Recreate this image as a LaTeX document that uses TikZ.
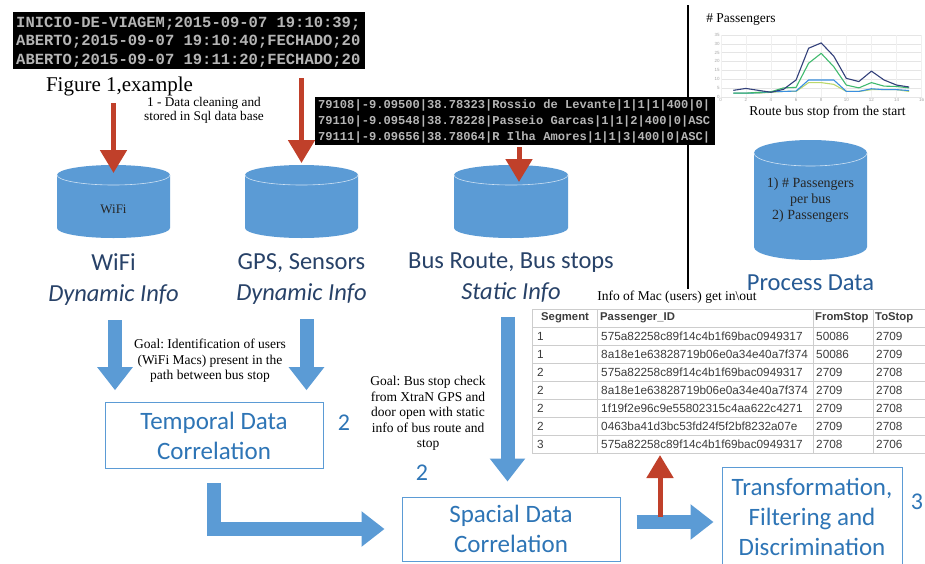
\documentclass[tikz,border=0pt]{standalone}
\usepackage{fontspec}
\setmainfont{Liberation Serif}
\newfontfamily\calfont{Carlito}
\newfontfamily\tabfont{Liberation Sans}
\newfontfamily\termfont{Liberation Mono}
\usetikzlibrary{arrows.meta,positioning}
\frenchspacing
\definecolor{dbblue}{RGB}{91,155,213}
\definecolor{boxblue}{RGB}{46,117,182}
\definecolor{lblblue}{RGB}{40,66,104}
\definecolor{procblue}{RGB}{38,90,148}
\definecolor{redarr}{RGB}{192,64,42}
\definecolor{tabgrid}{RGB}{205,205,205}
\definecolor{tabtxt}{RGB}{60,60,60}
\definecolor{navyline}{RGB}{50,64,122}
\definecolor{greenline}{RGB}{64,186,110}
\definecolor{blueline}{RGB}{58,143,224}
\definecolor{limeline}{RGB}{186,216,108}
\tikzset{
termbox/.style={fill=black, draw=none, inner sep=0pt, outer sep=0pt},
termbig/.style={text=gray!58, font=\termfont\bfseries\fontsize{15.5}{18}\selectfont, anchor=west, inner sep=0pt},
termsmall/.style={text=gray!58, font=\termfont\bfseries\fontsize{12.1}{14}\selectfont, anchor=west, inner sep=0pt},
cylnode/.style={draw=none, inner sep=0pt, outer sep=0pt},
cyltxt/.style={align=center, inner sep=0pt, text=black!85},
dblabel/.style={align=center, inner sep=0pt, text=lblblue, font=\calfont\fontsize{24.5}{31}\selectfont},
corrbox/.style={rectangle, draw=dbblue, line width=1pt, fill=white, align=center, inner sep=0pt, text=boxblue, font=\calfont\fontsize{25}{30}\selectfont},
numlbl/.style={inner sep=0pt, text=boxblue, font=\calfont\fontsize{24}{26}\selectfont},
goaltxt/.style={align=center, inner sep=0pt, font=\fontsize{13.5}{15.5}\selectfont},
tabhead/.style={anchor=west, inner sep=0pt, text=tabtxt, font=\tabfont\bfseries\fontsize{11.3}{14}\selectfont},
tabcell/.style={anchor=west, inner sep=0pt, text=tabtxt, font=\tabfont\fontsize{11.8}{14}\selectfont},
tick/.style={inner sep=1pt, text=gray!70, font=\tabfont\fontsize{4.5}{5}\selectfont},
bigarrow/.style={draw=dbblue, line width=14pt, line join=miter, -{Triangle[width=34pt,length=23pt]}},
redarrow/.style={draw=redarr, line width=5pt, -{Triangle[width=26pt,length=23pt]}}
}
% database cylinder: name, centre x, top y, bottom y, half width, ellipse height
\newcommand\dbcyl[6]{%
\fill[dbblue] (#2-#5,#3) -- (#2-#5,#4)
  arc[start angle=180, end angle=360, x radius=#5pt, y radius=#6pt]
  -- (#2+#5,#3)
  arc[start angle=0, end angle=180, x radius=#5pt, y radius=#6pt] -- cycle;
\draw[white!70!dbblue, line width=0.6pt] (#2-#5,#3)
  arc[start angle=180, end angle=360, x radius=#5pt, y radius=#6pt];
\node[cylnode, minimum width={2*#5pt}, minimum height={(#4-#3+2*#6)*1pt}] (#1) at (#2,{(#3+#4)/2}) {};
}

\begin{document}
\begin{tikzpicture}[x=1pt, y=-1pt, >=latex]
\useasboundingbox (0,0) rectangle (925,563);
\fill[white] (0,0) rectangle (925,563);

% separator
\draw[line width=1.3pt] (688,5) -- (688,289);

% raw data screens
\node[termbox, minimum width=352pt, minimum height=57pt, anchor=north west] (term1) at (13,12) {};
\foreach \ln [count=\i] in {INICIO-DE-VIAGEM;2015-09-07 19:10:39;,
  ABERTO;2015-09-07 19:10:40;FECHADO;20,
  ABERTO;2015-09-07 19:11:20;FECHADO;20}
  \node[termbig] (t1l\i) at (16,{4.5+18.7*\i}) {\ln};

\node[termbox, minimum width=400pt, minimum height=48pt, anchor=north west] (term2) at (315,97) {};
\begin{scope}
\clip (term2.south west) rectangle (term2.north east);
\foreach \ln [count=\i] in {79108|-9.09500|38.78323|Rossio de Levante|1|1|1|400|0|,
  79110|-9.09548|38.78228|Passeio Garcas|1|1|2|400|0|ASC,
  79111|-9.09656|38.78064|R Ilha Amores|1|1|3|400|0|ASC|}
  \node[termsmall] (t2l\i) at (318,{90+15.8*\i}) {\ln};
\end{scope}

\node[inner sep=0pt, font=\fontsize{21}{24}\selectfont] (fig) at (119.5,86) {Figure 1,example};
\node[goaltxt, font=\fontsize{13.3}{14}\selectfont] (clean) at (204,110) {1 - Data cleaning and\\stored in Sql data base};

% databases
\dbcyl{wifi}{113.5}{175}{228}{56.5}{10}
\dbcyl{gps}{301.5}{175}{228}{56.5}{10}
\dbcyl{route}{511}{175}{228}{57}{10}
\dbcyl{proc}{810.5}{153}{247}{56.5}{13}

\node[cyltxt, font=\fontsize{13}{15}\selectfont] (wifitxt) at ([yshift=-7.5pt]wifi.center) {WiFi};
\node[cyltxt, font=\fontsize{14}{16}\selectfont] (proctxt) at (proc.center) {1) \# Passengers\\per bus\\2) Passengers};

\node[dblabel, below=15pt of wifi] (wifilbl) {WiFi\\\textit{Dynamic Info}};
\node[dblabel, below=15pt of gps] (gpslbl) {GPS, Sensors\\\textit{Dynamic Info}};
\node[dblabel, below=15pt of route] (routelbl) {Bus Route, Bus stops\\\textit{Static Info}};
\node[dblabel, text=procblue, below=14.5pt of proc] (proclbl) {Process Data};

% chart
\node[inner sep=0pt, font=\fontsize{13.5}{16}\selectfont] (chtitle) at (741,20) {\# Passengers};
\begin{scope}[shift={(720.7,96.7)}, x=12.56pt, y=1.763pt]
\foreach \v in {0,5,...,35} {
  \draw[gray!20, line width=0.4pt] (0,\v) -- (16,\v);
  \node[tick, anchor=east] (ty\v) at (0,\v) {\v};
}
\foreach \u in {0,2,...,16} {
  \draw[gray!12, line width=0.4pt] (\u,0) -- (\u,35);
  \node[tick, anchor=north] (tx\u) at (\u,0) {\u};
}
\draw[limeline, line width=1.1pt, line join=round] plot coordinates {(1,2) (2,2) (3,2) (4,2.5) (5,3) (6,3) (7,8) (8,8) (9,7) (10,3) (11,3) (12,4) (13,4) (14,4) (15,3)};
\draw[blueline, line width=1.1pt, line join=round] plot coordinates {(1,2) (2,2) (3,2.2) (4,2.8) (5,3) (6,3.2) (7,9.5) (8,9.5) (9,9.5) (10,3) (11,3) (12,4.5) (13,4) (14,4) (15,3.5)};
\draw[greenline, line width=1.1pt, line join=round] plot coordinates {(1,2) (2,2) (3,2.5) (4,2.8) (5,5) (6,5.3) (7,19) (8,24.6) (9,17) (10,6.6) (11,5) (12,8) (13,6) (14,5.8) (15,5)};
\draw[navyline, line width=1.1pt, line join=round] plot coordinates {(1,3.6) (2,4.7) (3,3.6) (4,2.5) (5,4.2) (6,9.5) (7,27.5) (8,30.5) (9,23) (10,10.4) (11,8.6) (12,14.5) (13,9.5) (14,6.6) (15,5.5)};
\end{scope}
\node[inner sep=0pt, font=\fontsize{13.5}{16}\selectfont] (chxlbl) at (827.5,112) {Route bus stop from the start};

% table
\node[inner sep=0pt, font=\fontsize{13.5}{15}\selectfont] (macinfo) at (677,297) {Info of Mac (users) get in\textbackslash out};
\node[draw=none, inner sep=0pt, outer sep=0pt, minimum width=393pt, minimum height=144pt, anchor=north west] (tab) at (532,309) {};
\foreach \k in {0,...,8}
  \draw[tabgrid, line width=0.7pt] (532,309+18*\k) -- (925,309+18*\k);
\foreach \cx in {532,597,813,873}
  \draw[tabgrid, line width=0.7pt] (\cx,309) -- (\cx,453);
\node[tabhead] (hseg) at (541,318) {Segment};
\node[tabhead] (hpid) at (600,318) {Passenger\_ID};
\node[tabhead] (hfrom) at (815,318) {FromStop};
\node[tabhead] (hto) at (875,318) {ToStop};
\foreach \seg/\pid/\from/\to [count=\r] in {
  1/575a82258c89f14c4b1f69bac0949317/50086/2709,
  1/8a18e1e63828719b06e0a34e40a7f374/50086/2709,
  2/575a82258c89f14c4b1f69bac0949317/2709/2708,
  2/8a18e1e63828719b06e0a34e40a7f374/2709/2708,
  2/1f19f2e96c9e55802315c4aa622c4271/2709/2708,
  2/0463ba41d3bc53fd24f5f2bf8232a07e/2709/2708,
  3/575a82258c89f14c4b1f69bac0949317/2708/2706}{
  \node[tabcell] (seg\r) at (537,318+18*\r) {\seg};
  \node[tabcell] (pid\r) at (601,318+18*\r) {\pid};
  \node[tabcell] (from\r) at (816,318+18*\r) {\from};
  \node[tabcell] (to\r) at (876,318+18*\r) {\to};
}

% correlation steps
\node[goaltxt] (goal1) at (210,361) {Goal: Identification of users\\(WiFi Macs) present in the\\path between bus stop};
\node[goaltxt] (goal2) at (428,413.5) {Goal: Bus stop check\\from XtraN GPS and\\door open with static\\info of bus route and\\stop};
\node[corrbox, minimum width=218pt, minimum height=65.6pt] (temp) at (214,435.5) {Temporal Data\\Correlation};
\node[corrbox, minimum width=218pt, minimum height=64pt] (spac) at (511,529) {Spacial Data\\Correlation};
\node[corrbox, minimum width=180pt, minimum height=100pt] (trans) at (812,517) {Transformation,\\Filtering and\\Discrimination};
\node[numlbl] (num2a) at (344,423) {2};
\node[numlbl] (num2b) at (422,473) {2};
\node[numlbl] (num3) at (917,502) {3};

% flow arrows
\draw[bigarrow, shorten <=15pt, shorten >=12pt] ([xshift=1.5pt]wifilbl.south) -- ([xshift=1.5pt]wifilbl.south |- temp.north);
\draw[bigarrow, shorten <=15pt, shorten >=12pt] ([xshift=5pt]gpslbl.south) -- ([xshift=5pt]gpslbl.south |- temp.north);
\draw[bigarrow, shorten <=14pt, shorten >=15pt] ([xshift=-3.5pt]routelbl.south) -- ([xshift=-3.5pt]routelbl.south |- spac.north);
\draw[bigarrow, shorten >=17pt] ([yshift=-14.4pt]temp.south) |- (spac.west);
\draw[bigarrow, shorten <=16pt, shorten >=8pt] ([yshift=7pt]spac.east) -- ([yshift=7pt]spac.east -| trans.west);

\draw[redarrow, shorten <=34pt, shorten >=-8pt] (term1.south -| wifi.north) -- (wifi.north);
\draw[redarrow, shorten <=9pt, shorten >=2pt] (term1.south -| gps.north) -- (gps.north);
\draw[redarrow, shorten <=2pt, shorten >=-17pt] ([xshift=8pt]term2.south -| route.north) -- ([xshift=8pt]route.north);
\coordinate (redbase) at (660,517);
\draw[redarrow, shorten >=2pt] (redbase) -- (redbase |- tab.south);
\end{tikzpicture}
\end{document}
